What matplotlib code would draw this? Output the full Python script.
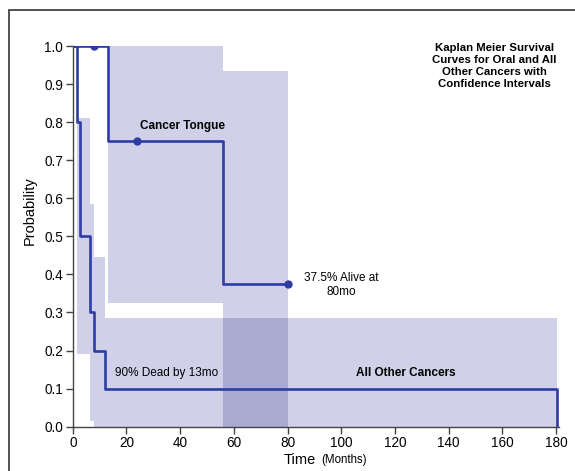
import numpy as np
import matplotlib
matplotlib.use("Agg")
import matplotlib.pyplot as plt
from matplotlib.patches import Rectangle

plt.rcParams["font.family"] = ["Liberation Sans", "DejaVu Sans"]

# Kaplan-Meier step data (time in months, survival probability)
tongue_t = [0, 13, 56, 80]
tongue_s = [1.0, 0.75, 0.375, 0.375]
tongue_cens_t = [8, 24, 80]
tongue_cens_s = [1.0, 0.75, 0.375]
tongue_ci_t = [13, 56, 80]
tongue_ci_hi = [1.0, 0.935]
tongue_ci_lo = [0.325, 0.0]

other_t = [0, 1.5, 2.5, 6.5, 8, 12, 180.5]
other_s = [1.0, 0.8, 0.5, 0.3, 0.2, 0.1, 0.0]
other_ci_t = [1.5, 6.5, 8, 12, 180.5]
other_ci_hi = [0.81, 0.585, 0.445, 0.285]
other_ci_lo = [0.19, 0.015, 0.0, 0.0]

x_ticks = list(range(0, 181, 20))
y_ticks = [round(0.1 * i, 1) for i in range(11)]

LINE = "#2F3CA3"
SHADE = "#D0D1E8"
OVERLAP = "#AAABD3"


def band_at(t, times, lo, hi):
    # value of a step band at time t, nan outside
    for k in range(len(times) - 1):
        if times[k] <= t < times[k + 1]:
            return lo[k], hi[k]
    return np.nan, np.nan


fig = plt.figure(figsize=(5.75, 4.71), dpi=100)
ax = fig.add_axes([72.8 / 575, 44.3 / 471, 485.8 / 575, 380.7 / 471])

# confidence bands
for times, lo, hi in [(tongue_ci_t, tongue_ci_lo, tongue_ci_hi),
                      (other_ci_t, other_ci_lo, other_ci_hi)]:
    ax.fill_between(times, lo + [lo[-1]], hi + [hi[-1]], step="post",
                    color=SHADE, lw=0, zorder=1)

# overlap of the two bands, interval by interval
grid = np.unique(np.array(tongue_ci_t + other_ci_t, dtype=float))
for g0, g1 in zip(grid[:-1], grid[1:]):
    mid = 0.5 * (g0 + g1)
    a_lo, a_hi = band_at(mid, tongue_ci_t, tongue_ci_lo, tongue_ci_hi)
    b_lo, b_hi = band_at(mid, other_ci_t, other_ci_lo, other_ci_hi)
    lo_v = max(a_lo, b_lo)
    hi_v = min(a_hi, b_hi)
    if np.isnan(lo_v) or np.isnan(hi_v) or hi_v <= lo_v:
        continue
    ax.fill_between([g0, g1], [lo_v, lo_v], [hi_v, hi_v],
                    color=OVERLAP, lw=0, zorder=2)

# survival curves
ax.step(other_t, other_s, where="post", color=LINE, lw=1.9, zorder=3)
ax.step(tongue_t, tongue_s, where="post", color=LINE, lw=1.9, zorder=4)
ax.plot(tongue_cens_t, tongue_cens_s, "o", color=LINE, ms=5, zorder=5)

ax.set_xlim(0, 181)
ax.set_ylim(0, 1.0)
ax.set_xticks(x_ticks)
ax.set_yticks(y_ticks)
ax.set_yticklabels(["%.1f" % v for v in y_ticks])
for s in ["top", "right"]:
    ax.spines[s].set_visible(False)
for s in ["left", "bottom"]:
    ax.spines[s].set_color("#444444")
    ax.spines[s].set_linewidth(1.0)
ax.tick_params(colors="#444444", labelcolor="black", labelsize=9.8,
               length=5, width=1.0, pad=2, direction="out")

ax.set_ylabel("Probability", fontsize=10.5)
ax.yaxis.set_label_coords(-0.074, 0.567)
ax.text(0.5006, -0.088, "Time", transform=ax.transAxes, ha="right",
        va="center", fontsize=10.5)
ax.text(0.511, -0.087, "(Months)", transform=ax.transAxes, ha="left",
        va="center", fontsize=8.3)

ax.text(40.7, 0.79, "Cancer Tongue", ha="center", va="center",
        fontsize=8.5, fontweight="bold")
ax.text(100, 0.372, "37.5% Alive at\n80mo", ha="center", va="center",
        fontsize=8.5)
ax.text(35, 0.14, "90% Dead by 13mo", ha="center", va="center", fontsize=8.5)
ax.text(124, 0.14, "All Other Cancers", ha="center", va="center",
        fontsize=8.5, fontweight="bold")
fig.text(494.5 / 575, 1 - 66 / 471,
         "Kaplan Meier Survival\nCurves for Oral and All\nOther Cancers with\nConfidence Intervals",
         ha="center", va="center", fontsize=8.2, fontweight="bold",
         linespacing=1.25)

# outer frame
fig.patches.append(Rectangle((9 / 575, -0.1), 1.2, 1 - 10 / 471 + 0.1,
                             transform=fig.transFigure, fill=False,
                             edgecolor="#333333", lw=1.2))

fig.savefig("out.png", dpi=100)
